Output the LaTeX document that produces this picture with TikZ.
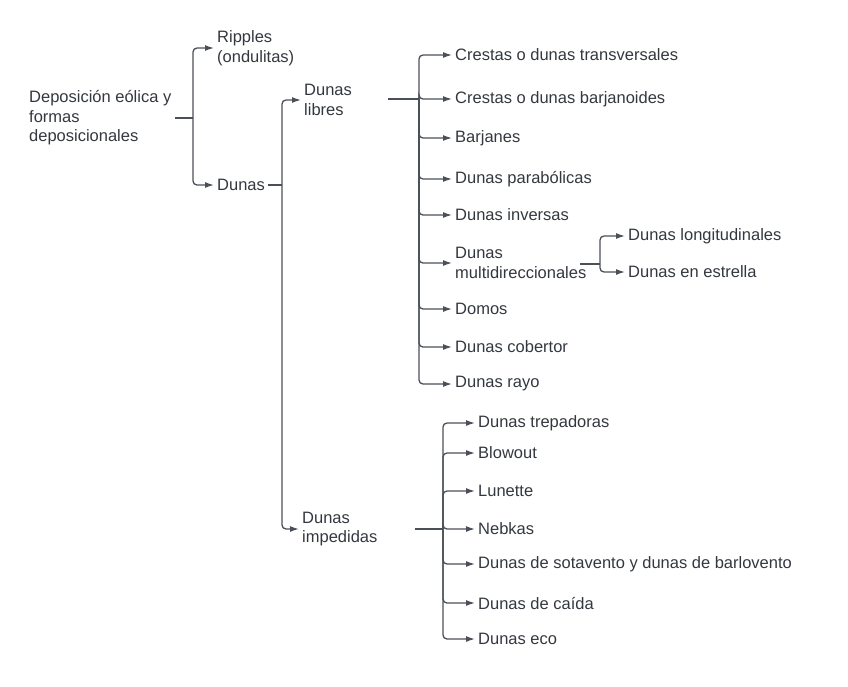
\documentclass[tikz,border=0pt]{standalone}
\usepackage{fontspec}
\setmainfont{Liberation Sans}
\usetikzlibrary{arrows.meta}
\definecolor{linegray}{HTML}{4B5058}
\definecolor{textgray}{HTML}{33383F}
\tikzset{
    item/.style={anchor=west,inner xsep=3pt,inner ysep=1pt,align=left,text=textgray,
        font=\fontsize{16.5}{19.5}\selectfont},
    conn/.style={draw=linegray,line width=1.3pt,rounded corners=4pt},
    arr/.style={conn,-{Latex[length=9pt,width=6pt]}},
    stub/.style={draw=linegray,line width=2.4pt}
}
\begin{document}
\begin{tikzpicture}[x=1pt,y=1pt]
            \useasboundingbox (0,0) rectangle (848,-686);

            % first levels
            \node[item] (root) at (26,-118) {Deposición eólica y\\formas\\deposicionales};
            \node[item] (rip) at (214,-48) {Ripples\\(ondulitas)};
            \node[item] (dun) at (214,-185) {Dunas};
            \node[item] (lib) at (301,-100) {Dunas\\libres};
            \node[item] (imp) at (299,-529) {Dunas\\impedidas};

            \coordinate (jRoot) at (193,-118);
            \coordinate (jDun) at (282,-185);
            \coordinate (sLib) at (388,-99);
            \coordinate (jLib) at (419,-99);
            \coordinate (sImp) at (415,-529);
            \coordinate (jImp) at (443,-529);
            \coordinate (sMul) at (580,-264);
            \coordinate (jMul) at (600,-264);

            % dunas libres
            \node[item] (l1) at (452,-55) {Crestas o dunas transversales};
            \node[item] (l2) at (452,-99) {Crestas o dunas barjanoides};
            \node[item] (l3) at (452,-138) {Barjanes};
            \node[item] (l4) at (452,-179) {Dunas parabólicas};
            \node[item] (l5) at (452,-215) {Dunas inversas};
            \node[item] (l6) at (452,-263) {Dunas\\multidireccionales};
            \node[item] (l7) at (452,-309) {Domos};
            \node[item] (l8) at (452,-347) {Dunas cobertor};
            \node[item] (l9) at (452,-384) {Dunas rayo};
            \node[item] (m1) at (625,-236) {Dunas longitudinales};
            \node[item] (m2) at (625,-272) {Dunas en estrella};

            % dunas impedidas
            \node[item] (i1) at (475,-423) {Dunas trepadoras};
            \node[item] (i2) at (475,-453) {Blowout};
            \node[item] (i3) at (475,-491) {Lunette};
            \node[item] (i4) at (475,-529) {Nebkas};
            \node[item] (i5) at (475,-564) {Dunas de sotavento y dunas de barlovento};
            \node[item] (i6) at (475,-603) {Dunas de caída};
            \node[item] (i7) at (475,-639) {Dunas eco};

            \path[conn] (root.east) -- (jRoot);
            \path[arr] (jRoot) |- (rip.west);
            \path[arr] (jRoot) |- (dun.west);
            \path[conn] (dun.east) -- (jDun);
            \path[arr] (jDun) |- (lib.west);
            \path[arr] (jDun) |- (imp.west);

            \path[stub] (sLib) -- (jLib);
            \path[arr] (jLib) |- (l1.west);
            \path[arr] (jLib) |- (l2.west);
            \path[arr] (jLib) |- (l3.west);
            \path[arr] (jLib) |- (l4.west);
            \path[arr] (jLib) |- (l5.west);
            \path[arr] (jLib) |- (l6.west);
            \path[arr] (jLib) |- (l7.west);
            \path[arr] (jLib) |- (l8.west);
            \path[arr] (jLib) |- (l9.west);

            \path[conn] (sMul) -- (jMul);
            \path[arr] (jMul) |- (m1.west);
            \path[arr] (jMul) |- (m2.west);

            \path[stub] (sImp) -- (jImp);
            \path[arr] (jImp) |- (i1.west);
            \path[arr] (jImp) |- (i2.west);
            \path[arr] (jImp) |- (i3.west);
            \path[arr] (jImp) |- (i4.west);
            \path[arr] (jImp) |- (i5.west);
            \path[arr] (jImp) |- (i6.west);
            \path[arr] (jImp) |- (i7.west);
        \end{tikzpicture}
\end{document}
